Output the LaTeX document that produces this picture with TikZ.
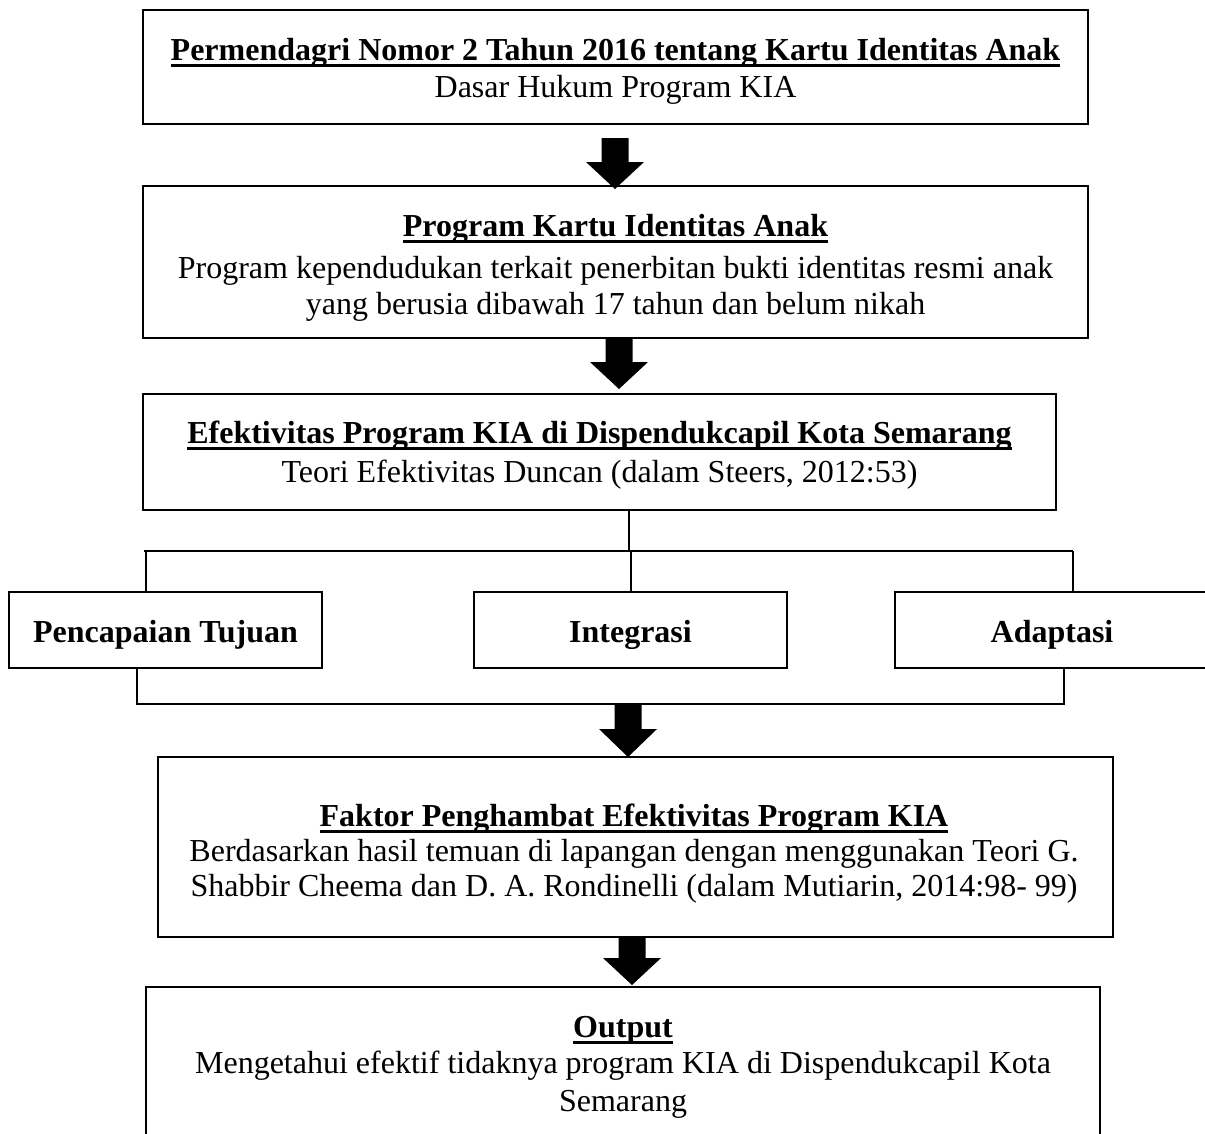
\documentclass[tikz,border=0pt]{standalone}
\usepackage{fontspec}
\setmainfont{Liberation Serif}
\usetikzlibrary{fit}
\newcommand\ulhead[1]{\setbox0\hbox{\bfseries #1}\rlap{\rule[-2.6pt]{\wd0}{1.2pt}}\box0}
\newcommand\blockarrow[4]{\fill (#1-13.5,#2) -- (#1+13.5,#2) -- (#1+13.5,#3) -- (#1+29,#3) -- (#1,#4) -- (#1-29,#3) -- (#1-13.5,#3) -- cycle;}
\begin{document}
\begin{tikzpicture}[x=0.4pt,y=-0.4pt,
  every node/.style={font=\fontsize{12.8pt}{15pt}\selectfont, inner sep=0pt, outer sep=0pt},
  boxst/.style={draw, line width=0.9pt, inner sep=0pt, outer sep=0pt},
  txt/.style={anchor=base},
  conn/.style={line width=0.9pt}]
\useasboundingbox (0,0) rectangle (1205,1133);
\clip (0,0) rectangle (1205,1133);
% boxes
\node[boxst, fit={(143,10) (1088,124)}] (b1) {};
\node[boxst, fit={(143,186) (1088,338)}] (b2) {};
\node[boxst, fit={(143,394) (1056,510)}] (b3) {};
\node[boxst, fit={(9,592) (322,668)}] (p) {};
\node[boxst, fit={(474,592) (787,668)}] (i) {};
\node[boxst, fit={(895,592) (1210,668)}] (a) {};
\node[boxst, fit={(158,757) (1113,937)}] (b4) {};
\node[boxst, fit={(146,987) (1100,1170)}] (b5) {};
% texts
\node[txt] (t1a) at (615.5,60) {\ulhead{Permendagri Nomor 2 Tahun 2016 tentang Kartu Identitas Anak}};
\node[txt] (t1b) at (615.5,97) {Dasar Hukum Program KIA};
\node[txt] (t2a) at (615.5,236) {\ulhead{Program Kartu Identitas Anak}};
\node[txt] (t2b) at (615.5,278) {Program kependudukan terkait penerbitan bukti identitas resmi anak};
\node[txt] (t2c) at (615.5,314) {yang berusia dibawah 17 tahun dan belum nikah};
\node[txt] (t3a) at (599.5,443) {\ulhead{Efektivitas Program KIA di Dispendukcapil Kota Semarang}};
\node[txt] (t3b) at (599.5,482) {Teori Efektivitas Duncan (dalam Steers, 2012:53)};
\node[txt] (tp) at (165.5,642) {\bfseries Pencapaian Tujuan};
\node[txt] (ti) at (630.5,642) {\bfseries Integrasi};
\node[txt] (ta) at (1052,642) {\bfseries Adaptasi};
\node[txt] (t4a) at (634,826) {\ulhead{Faktor Penghambat Efektivitas Program KIA}};
\node[txt] (t4b) at (634,861) {Berdasarkan hasil temuan di lapangan dengan menggunakan Teori G.};
\node[txt] (t4c) at (634,896) {Shabbir Cheema dan D. A. Rondinelli (dalam Mutiarin, 2014:98- 99)};
\node[txt] (t5a) at (623,1037) {\ulhead{Output}};
\node[txt] (t5b) at (623,1073) {Mengetahui efektif tidaknya program KIA di Dispendukcapil Kota};
\node[txt] (t5c) at (623,1111) {Semarang};
% block arrows
\blockarrow{615}{138}{162}{189}
\blockarrow{619}{338}{362}{389}
\blockarrow{628}{704}{729}{757}
\blockarrow{632}{937}{958}{985}
% branching connectors
\coordinate (j0) at (629,551);
\coordinate (hl) at (144,551);
\coordinate (hr) at (1073,551);
\coordinate (d1) at (146,551);
\coordinate (d2) at (631,551);
\coordinate (d3) at (1073,551);
\draw[conn] (b3.south -| j0) -- (j0);
\draw[conn] (hl) -- (hr);
\draw[conn] (d1) -- (d1 |- p.north);
\draw[conn] (d2) -- (d2 |- i.north);
\draw[conn] (d3) -- (d3 |- a.north);
\coordinate (bl) at (137,704);
\coordinate (br) at (1064,704);
\draw[conn] (bl |- p.south) -- (bl) -- (br) -- (br |- a.south);
\end{tikzpicture}
\end{document}
